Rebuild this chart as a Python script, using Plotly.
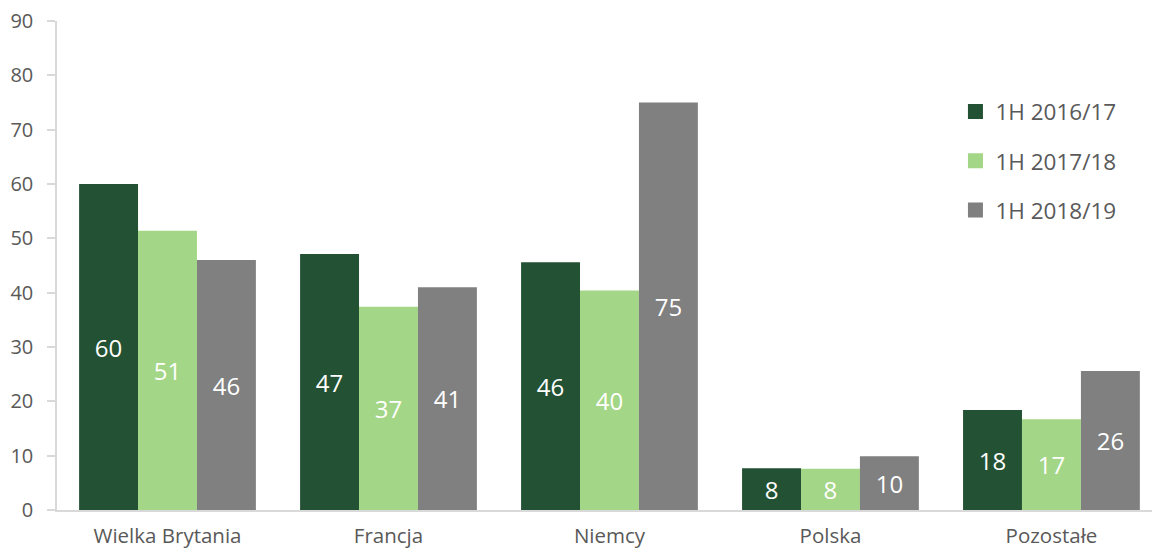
import plotly.graph_objects as go

categories = ["Wielka Brytania", "Francja", "Niemcy", "Polska", "Pozostałe"]
series_names = ["1H 2016/17", "1H 2017/18", "1H 2018/19"]
values_2016_17 = [60.0, 47.1, 45.6, 7.7, 18.4]
values_2017_18 = [51.4, 37.4, 40.4, 7.6, 16.7]
values_2018_19 = [46.0, 41.0, 75.0, 9.9, 25.6]
y_ticks = [0, 10, 20, 30, 40, 50, 60, 70, 80, 90]

colors = ["#235133", "#a3d686", "#808080"]
font_family = "Open Sans, Segoe UI, sans-serif"
axis_grey = "#d9d9d9"
text_grey = "#595959"

fig = go.Figure()

for name, vals, col in zip(series_names, [values_2016_17, values_2017_18, values_2018_19], colors):
    fig.add_trace(go.Bar(
        x=categories,
        y=vals,
        name=name,
        marker=dict(color=col, line=dict(width=0)),
        texttemplate="%{y:.0f}",
        textposition="inside",
        insidetextanchor="middle",
        textangle=0,
        textfont=dict(color="white", size=24, family=font_family),
        showlegend=False,
        hoverinfo="skip",
    ))

# legend entries with square swatches
for i, (name, col) in enumerate(zip(series_names, colors)):
    fig.add_trace(go.Scatter(
        x=[None], y=[None],
        mode="markers",
        name=name,
        legendgroup=f"g{i}",
        marker=dict(symbol="square", size=15, color=col),
        showlegend=True,
    ))

fig.update_layout(
    width=1152,
    height=551,
    margin=dict(l=57, r=0, t=21, b=41),
    paper_bgcolor="white",
    plot_bgcolor="white",
    barmode="group",
    bargap=0.2,
    bargroupgap=0,
    font=dict(family=font_family, color=text_grey, size=20),
    legend=dict(
        x=0.8205, y=0.858, xanchor="left", yanchor="top",
        font=dict(size=22.5, color=text_grey, family=font_family),
        tracegroupgap=17,
        bgcolor="rgba(0,0,0,0)",
        traceorder="grouped",
    ),
    xaxis=dict(
        range=[-0.5, 4.455],
        showline=True, linecolor=axis_grey, linewidth=1.5,
        ticks="", showgrid=False, zeroline=False,
        tickfont=dict(size=20.5, color=text_grey),
        ticklabelstandoff=7,
    ),
    yaxis=dict(
        range=[0, 90],
        tickvals=y_ticks,
        showline=True, linecolor=axis_grey, linewidth=1.5,
        ticks="outside", ticklen=8, tickcolor=axis_grey, tickwidth=1.5,
        showgrid=False, zeroline=False,
        tickfont=dict(size=20, color=text_grey),
        ticklabelstandoff=10,
    ),
)

fig.write_html("out.html")
